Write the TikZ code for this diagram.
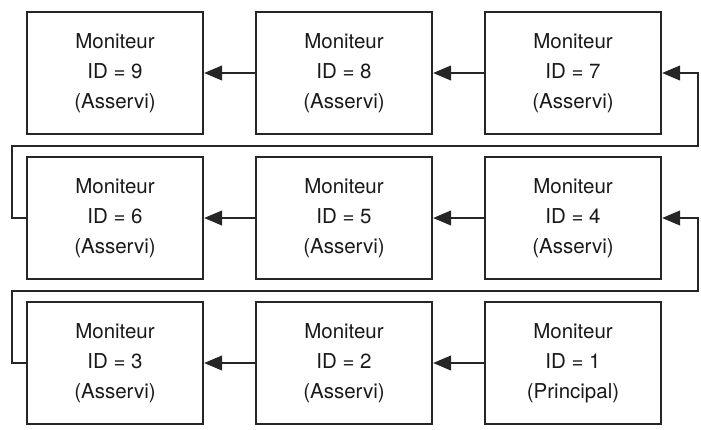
\documentclass[tikz,border=0pt]{standalone}
\usepackage{fontspec}
\setmainfont{TeX Gyre Heros}
\usetikzlibrary{arrows.meta}
\begin{document}
\begin{tikzpicture}[x=1pt,y=-1pt,
  mon/.style={draw=black!85,line width=2.4pt,minimum width=176pt,minimum height=122pt,
    inner sep=0pt,align=center,text=black!90,
    font=\fontsize{20.5pt}{30pt}\selectfont},
  conn/.style={draw=black!85,line width=1.1pt},
  arr/.style={conn,-{Triangle[length=18pt,width=15pt]}}]
\useasboundingbox (0,0) rectangle (701,429);
\node[mon] (b9) at (115,73) {Moniteur\\ID = 9\\(Asservi)};
\node[mon] (b8) at (344,73) {Moniteur\\ID = 8\\(Asservi)};
\node[mon] (b7) at (573,73) {Moniteur\\ID = 7\\(Asservi)};
\node[mon] (b6) at (115,218) {Moniteur\\ID = 6\\(Asservi)};
\node[mon] (b5) at (344,218) {Moniteur\\ID = 5\\(Asservi)};
\node[mon] (b4) at (573,218) {Moniteur\\ID = 4\\(Asservi)};
\node[mon] (b3) at (115,363) {Moniteur\\ID = 3\\(Asservi)};
\node[mon] (b2) at (344,363) {Moniteur\\ID = 2\\(Asservi)};
\node[mon] (b1) at (573,363) {Moniteur\\ID = 1\\(Principal)};
\coordinate (l1) at (12,146);
\coordinate (r1) at (698,146);
\coordinate (l2) at (12,291);
\coordinate (r2) at (698,291);
\draw[arr] (b8.west) -- (b9.east);
\draw[arr] (b7.west) -- (b8.east);
\draw[arr] (b5.west) -- (b6.east);
\draw[arr] (b4.west) -- (b5.east);
\draw[arr] (b2.west) -- (b3.east);
\draw[arr] (b1.west) -- (b2.east);
\draw[arr] (b6.west) -| (l1) -- (r1) |- (b7.east);
\draw[arr] (b3.west) -| (l2) -- (r2) |- (b4.east);
\end{tikzpicture}
\end{document}
